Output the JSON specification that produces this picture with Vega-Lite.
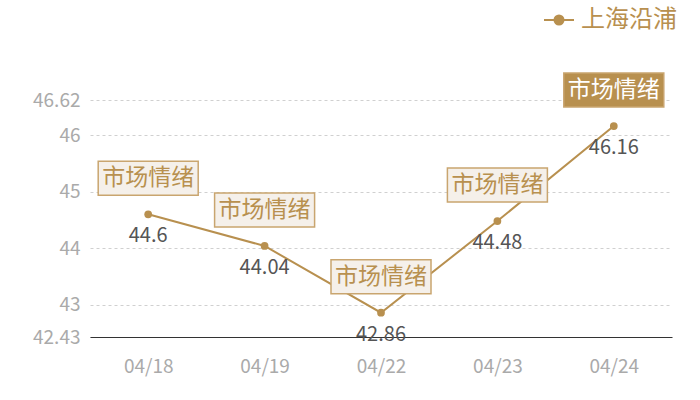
{
  "$schema": "https://vega.github.io/schema/vega-lite/v6.json",
  "width": 582,
  "height": 237,
  "autosize": {"type": "none"},
  "padding": {"left": 90, "top": 100, "right": 28, "bottom": 63},
  "background": "white",
  "config": {
    "font": "Noto Sans CJK SC",
    "view": {"stroke": null}
  },
  "data": {
    "values": [
      {"date": "04/18", "value": 44.6, "tag": "市场情绪"},
      {"date": "04/19", "value": 44.04, "tag": "市场情绪"},
      {"date": "04/22", "value": 42.86, "tag": "市场情绪"},
      {"date": "04/23", "value": 44.48, "tag": "市场情绪"},
      {"date": "04/24", "value": 46.16, "tag": "市场情绪"}
    ]
  },
  "encoding": {
    "x": {
      "field": "date", "type": "ordinal",
      "scale": {"type": "point", "padding": 0.5},
      "axis": {
        "title": null, "labelAngle": 0, "ticks": false,
        "labelColor": "#aaaaaa", "labelFontSize": 19, "labelPadding": 20,
        "domainColor": "#333333", "domainWidth": 1.2
      }
    },
    "y": {
      "field": "value", "type": "quantitative",
      "scale": {"domain": [42.43, 46.62], "nice": false, "zero": false},
      "axis": {
        "title": null, "values": [42.43, 43, 44, 45, 46, 46.62],
        "labelExpr": "'' + datum.value",
        "domain": false, "ticks": false,
        "labelColor": "#aaaaaa", "labelFontSize": 19, "labelPadding": 10,
        "gridColor": "#d0d0d0", "gridDash": [3, 3], "gridWidth": 1
      }
    }
  },
  "layer": [
    {
      "mark": {"type": "line", "strokeWidth": 2, "color": "#b8904f"},
      "encoding": {
        "color": {
          "datum": "上海沿浦",
          "scale": {"range": ["#b8904f"]},
          "legend": {
            "title": null, "orient": "none", "legendX": 453, "legendY": -96,
            "labelFontSize": 24, "labelColor": "#b8904f", "labelOffset": 6,
            "symbolType": "M-1,0H-0.35M0.35,0H1M0.3,0A0.3,0.3,0,1,1,-0.3,0A0.3,0.3,0,1,1,0.3,0Z",
            "symbolSize": 900, "symbolStrokeWidth": 2, "symbolFillColor": "#b8904f",
            "symbolStrokeColor": "#d6be96"
          }
        }
      }
    },
    {
      "mark": {"type": "point", "filled": true, "size": 60, "color": "#b8904f", "opacity": 1}
    },
    {
      "mark": {"type": "text", "dy": 22, "fontSize": 20, "color": "#555555"},
      "encoding": {"text": {"field": "value", "type": "quantitative"}}
    },
    {
      "mark": {
        "type": "point", "yOffset": -36, "size": 10000, "strokeWidth": 1.5,
        "shape": "M-1,-0.34L1,-0.34L1,0.34L-1,0.34Z", "opacity": 1, "filled": false
      },
      "encoding": {
        "fill": {"condition": {"test": "datum.date === '04/24'", "value": "#b8904f"}, "value": "#f5f0ea"},
        "stroke": {"value": "#c9a56f"}
      }
    },
    {
      "mark": {"type": "text", "yOffset": -36, "fontSize": 23, "baseline": "middle"},
      "encoding": {
        "text": {"field": "tag"},
        "color": {"condition": {"test": "datum.date === '04/24'", "value": "#ffffff"}, "value": "#b8904f"}
      }
    }
  ]
}
